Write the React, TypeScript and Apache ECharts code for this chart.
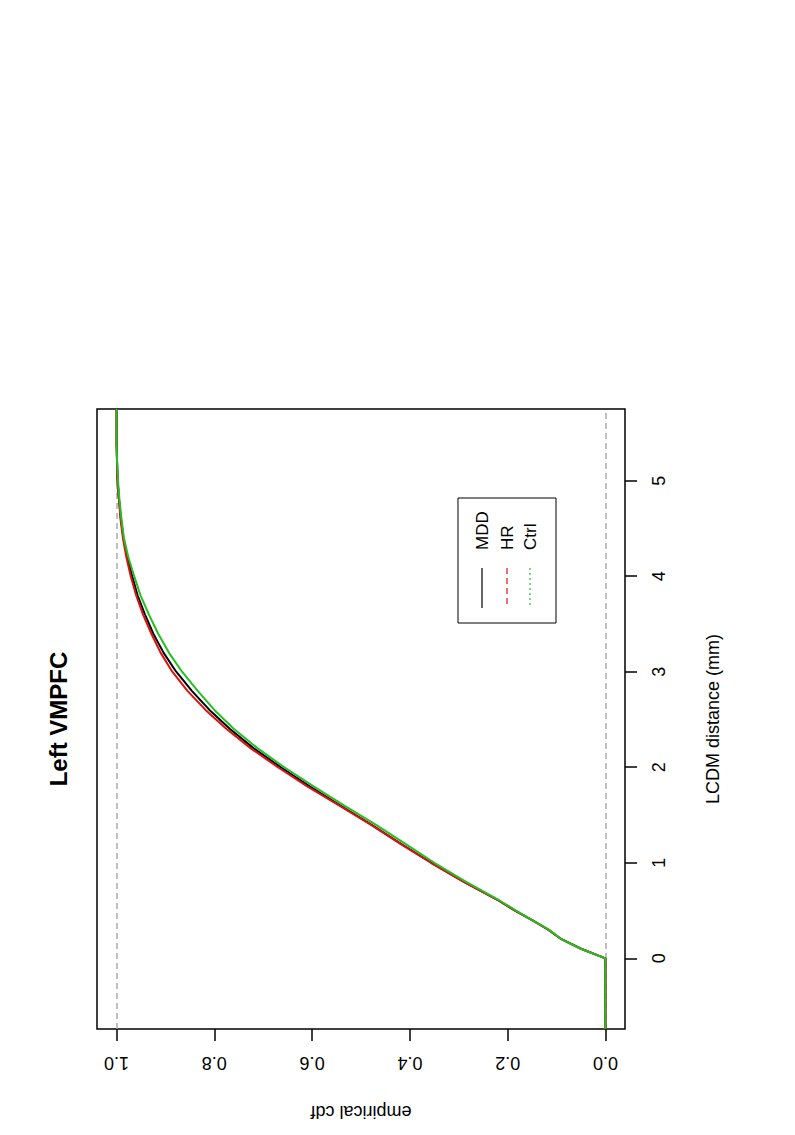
import React, { useEffect, useRef } from "react";
import * as echarts from "echarts";

// LCDM distance (mm) grid
const distances = [-0.74, 0, 0.1, 0.2, 0.3, 0.4, 0.5, 0.6, 0.8, 1.0, 1.2, 1.4, 1.6, 1.8, 2.0, 2.2, 2.4, 2.6, 2.8, 3.0, 3.2, 3.4, 3.6, 3.8, 4.0, 4.2, 4.4, 4.6, 4.8, 5.0, 5.2, 5.4, 5.75];
// empirical cdf values per group
const mddCdf = [0, 0, 0.05, 0.09, 0.117, 0.15, 0.185, 0.217, 0.289, 0.356, 0.419, 0.479, 0.543, 0.605, 0.664, 0.72, 0.768, 0.81, 0.846, 0.878, 0.904, 0.925, 0.942, 0.957, 0.968, 0.978, 0.986, 0.991, 0.995, 0.998, 0.999, 1.0, 1.0];
const hrCdf = [0, 0, 0.05, 0.09, 0.117, 0.15, 0.185, 0.217, 0.29, 0.357, 0.42, 0.48, 0.545, 0.61, 0.67, 0.726, 0.775, 0.818, 0.855, 0.886, 0.91, 0.929, 0.946, 0.96, 0.971, 0.98, 0.987, 0.992, 0.995, 0.998, 0.999, 1.0, 1.0];
const ctrlCdf = [0, 0, 0.05, 0.09, 0.116, 0.15, 0.183, 0.215, 0.285, 0.35, 0.41, 0.47, 0.535, 0.597, 0.657, 0.712, 0.76, 0.8, 0.834, 0.866, 0.893, 0.915, 0.934, 0.951, 0.964, 0.976, 0.985, 0.99, 0.994, 0.997, 0.999, 1.0, 1.0];

const seriesNames = ["MDD", "HR", "Ctrl"];
const seriesColors = ["#000000", "#dd1111", "#22c022"];
const legendDash: any[] = ["solid", [6, 4], [2, 3]];
const cdfTicks = [0, 0.2, 0.4, 0.6, 0.8, 1.0];
const distTicks = [0, 1, 2, 3, 4, 5];
const titleText = "Left VMPFC";

export default function App() {
  const ref = useRef<HTMLDivElement>(null);
  useEffect(() => {
    if (!ref.current) return;
    const chart = echarts.init(ref.current, null, { renderer: "svg" });
    const values = [mddCdf, hrCdf, ctrlCdf];
    const font = "Liberation Sans, Arial, sans-serif";

    const series: any[] = seriesNames.map((name, i) => ({
      name,
      type: "line",
      data: distances.map((d, j) => [values[i][j], d]),
      showSymbol: false,
      symbol: "none",
      lineStyle: { color: seriesColors[i], width: 2 },
      itemStyle: { color: seriesColors[i] },
      z: 3 + i,
      markLine:
        i === 0
          ? {
              silent: true,
              symbol: "none",
              label: { show: false },
              lineStyle: { color: "#aaaaaa", type: [6, 4], width: 1.5 },
              data: [{ xAxis: 0 }, { xAxis: 1 }],
              z: 1,
            }
          : undefined,
    }));

    const cols = [482, 507, 530];
    const legendEls: any[] = [
      {
        type: "rect",
        shape: { x: 458, y: 498, width: 98, height: 125 },
        style: { fill: "#fff", stroke: "#000", lineWidth: 1 },
        z: 10,
      },
    ];
    seriesNames.forEach((name, i) => {
      legendEls.push({
        type: "text",
        x: cols[i],
        y: 550,
        rotation: Math.PI / 2,
        style: {
          text: name,
          font: `17px ${font}`,
          fill: "#000",
          textAlign: "left",
          textVerticalAlign: "middle",
        },
        z: 11,
      });
      legendEls.push({
        type: "line",
        shape: { x1: cols[i], y1: 568, x2: cols[i], y2: 608 },
        style: { stroke: seriesColors[i], lineWidth: 1.2, lineDash: legendDash[i] },
        z: 11,
      });
    });

    chart.setOption({
      animation: false,
      backgroundColor: "#ffffff",
      textStyle: { fontFamily: font },
      grid: {
        left: 97,
        right: 170,
        top: 409,
        bottom: 106,
        show: true,
        borderColor: "#000",
        borderWidth: 1.5,
        containLabel: false,
      },
      xAxis: {
        type: "value",
        min: -0.04,
        max: 1.04,
        inverse: true,
        position: "bottom",
        name: "empirical cdf",
        nameLocation: "middle",
        nameGap: 74,
        nameRotate: 180,
        nameTextStyle: { fontSize: 18, color: "#000", fontFamily: font },
        axisLine: { show: false, onZero: false },
        axisTick: {
          show: true,
          length: 12,
          lineStyle: { color: "#000", width: 1.5 },
          customValues: cdfTicks,
        },
        axisLabel: {
          rotate: 180,
          margin: 25,
          fontSize: 18,
          color: "#000",
          fontFamily: font,
          customValues: cdfTicks,
          formatter: (v: number) => v.toFixed(1),
        },
        splitLine: { show: false },
      },
      yAxis: {
        type: "value",
        min: -0.74,
        max: 5.75,
        position: "right",
        name: "LCDM distance (mm)",
        nameLocation: "middle",
        nameGap: 79,
        nameRotate: 90,
        nameTextStyle: { fontSize: 18, color: "#000", fontFamily: font },
        axisLine: { show: false, onZero: false },
        axisTick: {
          show: true,
          length: 12,
          lineStyle: { color: "#000", width: 1.5 },
          customValues: distTicks,
        },
        axisLabel: {
          rotate: 90,
          margin: 25,
          fontSize: 18,
          color: "#000",
          fontFamily: font,
          customValues: distTicks,
          formatter: (v: number) => String(Math.round(v)),
        },
        splitLine: { show: false },
      },
      graphic: [
        {
          type: "text",
          x: 58,
          y: 719,
          rotation: Math.PI / 2,
          style: {
            text: titleText,
            font: `bold 24px ${font}`,
            fill: "#000",
            textAlign: "center",
            textVerticalAlign: "middle",
          },
        },
        ...legendEls,
      ],
      series,
    });
    return () => chart.dispose();
  }, []);
  return (
    <div
      ref={ref}
      style={{ position: "absolute", left: 0, top: 0, width: 795, height: 1135, background: "#fff" }}
    />
  );
}
